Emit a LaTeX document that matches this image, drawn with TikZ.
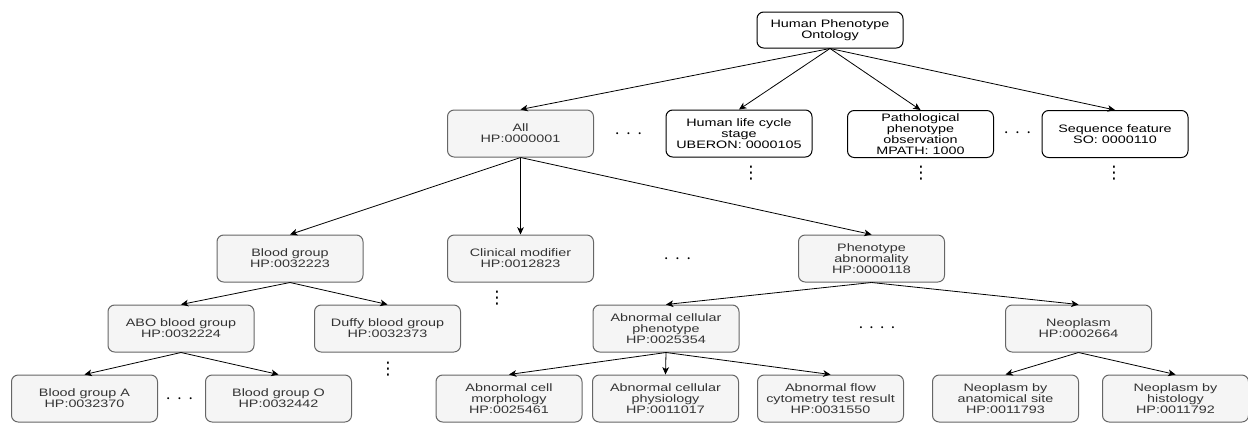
\documentclass[tikz,border=0pt]{standalone}
\usepackage{fontspec}
\setmainfont{Liberation Sans}[FakeStretch=1.33]
\newfontfamily\symfont{DejaVu Sans}
\usetikzlibrary{positioning,arrows.meta}
\definecolor{boxfill}{HTML}{F5F5F5}
\definecolor{boxline}{HTML}{666666}
\definecolor{boxtext}{HTML}{333333}
\newcommand*{\dt}{$\cdotp$}
\newcommand*{\vdts}{{\symfont\fontsize{13}{13}\selectfont ⋮}}

\begin{document}
\begin{tikzpicture}[x=0.75pt,y=-0.75pt,
  hpbox/.style={draw=boxline,fill=boxfill,text=boxtext,rounded corners=5pt,
    line width=0.75pt,minimum width=109.5pt,minimum height=35.25pt,
    inner sep=1pt,align=center,font=\fontsize{8.1}{8.1}\selectfont},
  srcbox/.style={hpbox,draw=black,fill=white,text=black},
  link/.style={-{Stealth[length=5.5pt,width=5pt,inset=1.5pt]},line width=0.6pt},
  gapdots/.style={font=\Large,inner sep=0pt}]
\useasboundingbox (0,0) rectangle (1248,422);
% Root of the ontology
\node[srcbox,minimum height=27pt] (hpo) at (830,30) {Human Phenotype\\Ontology};
% First level: HPO and imported ontologies
\node[hpbox] (all) at (520.5,133.5) {All\\HP:0000001};
\node[srcbox] (lifecycle) at (739,133.5) {Human life cycle\\stage\\UBERON: 0000105};
\node[srcbox] (patho) at (920.5,134) {Pathological\\phenotype\\observation\\MPATH: 1000};
\node[srcbox] (seqfeat) at (1115,134) {Sequence feature\\SO: 0000110};
% Second level
\node[hpbox] (blood) at (290,258.5) {Blood group\\HP:0032223};
\node[hpbox] (clinical) at (520.5,258.5) {Clinical modifier\\HP:0012823};
\node[hpbox] (phenoab) at (871.5,258.5) {Phenotype\\abnormality\\HP:0000118};
% Third level
\node[hpbox] (abo) at (181,328.5) {ABO blood group\\HP:0032224};
\node[hpbox] (duffy) at (387.5,328.5) {Duffy blood group\\HP:0032373};
\node[hpbox] (cellular) at (666,328.5) {Abnormal cellular\\phenotype\\HP:0025354};
\node[hpbox] (neoplasm) at (1078.5,328.5) {Neoplasm\\HP:0002664};
% Leaves
\node[hpbox] (groupa) at (84.5,398.5) {Blood group A\\HP:0032370};
\node[hpbox] (groupo) at (278.5,398.5) {Blood group O\\HP:0032442};
\node[hpbox] (morph) at (509,398.5) {Abnormal cell\\morphology\\HP:0025461};
\node[hpbox] (physio) at (665.5,398.5) {Abnormal cellular\\physiology\\HP:0011017};
\node[hpbox] (flow) at (830.5,398.5) {Abnormal flow\\cytometry test result\\HP:0031550};
\node[hpbox] (site) at (1005.5,398.5) {Neoplasm by\\anatomical site\\HP:0011793};
\node[hpbox] (histo) at (1175.5,398.5) {Neoplasm by\\histology\\HP:0011792};
% Omitted siblings and children
\node[gapdots] (gap1) at (628.5,134) {\dt\hspace{4.5pt}\dt\hspace{4.5pt}\dt};
\node[gapdots] (gap2) at (1017.5,133) {\dt\hspace{4.5pt}\dt\hspace{4.5pt}\dt};
\node[gapdots] (gap3) at (677.5,259) {\dt\hspace{4.5pt}\dt\hspace{4.5pt}\dt};
\node[gapdots] (gap4) at (179.5,399) {\dt\hspace{4.5pt}\dt\hspace{4.5pt}\dt};
\node[gapdots] (gap5) at (877,328) {\dt\hspace{4pt}\dt\hspace{4pt}\dt\hspace{4pt}\dt};
\node[gapdots] (more1) at (751,173.5) {\vdts};
\node[gapdots] (more2) at (921,173.5) {\vdts};
\node[gapdots] (more3) at (1114,173.5) {\vdts};
\node[gapdots] (more4) at (497,298.5) {\vdts};
\node[gapdots] (more5) at (388,369.5) {\vdts};
% Is-a links
\draw[link] (hpo.south) -- (all.north);
\draw[link] (hpo.south) -- (lifecycle.north);
\draw[link] (hpo.south) -- (patho.north);
\draw[link] (hpo.south) -- (seqfeat.north);
\draw[link] (all.south) -- (blood.north);
\draw[link] (all.south) -- (clinical.north);
\draw[link] (all.south) -- (phenoab.north);
\draw[link] (blood.south) -- (abo.north);
\draw[link] (blood.south) -- (duffy.north);
\draw[link] (abo.south) -- (groupa.north);
\draw[link] (abo.south) -- (groupo.north);
\draw[link] (phenoab.south) -- (cellular.north);
\draw[link] (phenoab.south) -- (neoplasm.north);
\draw[link] (cellular.south) -- (morph.north);
\draw[link] (cellular.south) -- (physio.north);
\draw[link] (cellular.south) -- (flow.north);
\draw[link] (neoplasm.south) -- (site.north);
\draw[link] (neoplasm.south) -- (histo.north);
\end{tikzpicture}
\end{document}
